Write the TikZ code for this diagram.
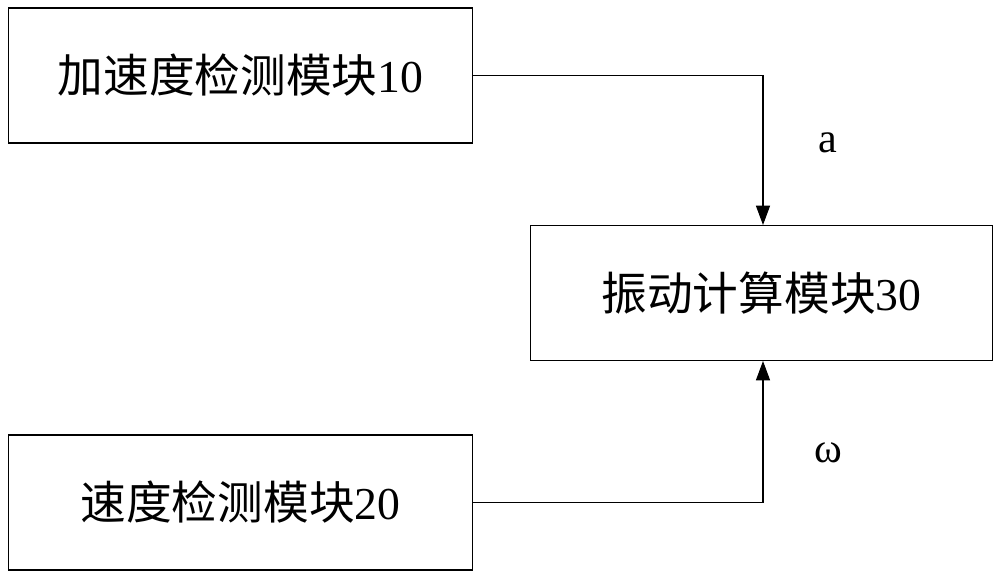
\documentclass[tikz,border=0pt]{standalone}
\usepackage{fontspec}
\setmainfont{Liberation Serif}
\newfontfamily\cjk{Noto Sans CJK SC}
\usetikzlibrary{arrows.meta}
\begin{document}
\begin{tikzpicture}[x=0.02cm, y=-0.02cm, >={Triangle[length=11pt,width=8pt]}]
\tikzset{module/.style={draw, line width=0.6pt, minimum width=9.3cm, minimum height=2.7cm, font=\fontsize{26}{30}\selectfont}}
\useasboundingbox (0,0) rectangle (1000,577);
\node [module] (accmod) at (240.5,75.5) {{\cjk 加速度检测模块}10};
\node [module, minimum width=9.26cm] (vibmod) at (761.5,293) {{\cjk 振动计算模块}30};
\node [module] (speedmod) at (240.5,502.5) {{\cjk 速度检测模块}20};
\coordinate (ca) at (763,75.5);
\coordinate (cw) at (763,502.5);
\draw [->, line width=0.6pt] (accmod.east) -- (ca) -- (vibmod.north -| ca);
\draw [->, line width=0.6pt] (speedmod.east) -- (cw) -- (vibmod.south -| cw);
\node [font=\fontsize{24}{28}\selectfont] (alab) at (828,143) {a};
\node [font=\fontsize{24}{28}\selectfont] (wlab) at (828,453) {ω};
\end{tikzpicture}
\end{document}
